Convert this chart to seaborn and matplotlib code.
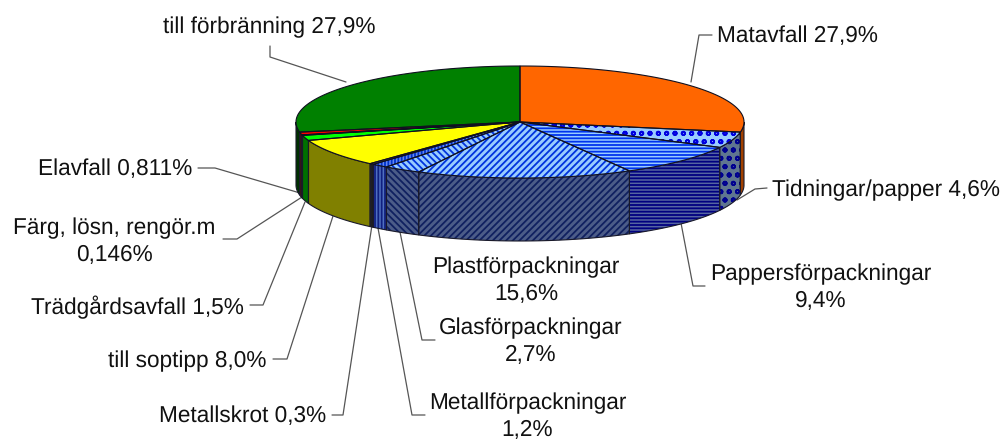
import numpy as np
import seaborn as sns
import matplotlib
matplotlib.use("Agg")
import matplotlib.pyplot as plt
from matplotlib.patches import Polygon

# values in percent, clockwise from 12 o'clock
categories = ["Matavfall", "Tidningar/papper", "Pappersförpackningar", "Plastförpackningar",
              "Glasförpackningar", "Metallförpackningar", "Metallskrot", "till soptipp",
              "Trädgårdsavfall", "Färg, lösn, rengör.m", "Elavfall", "till förbränning"]
values = [27.9, 4.6, 9.4, 15.6, 2.7, 1.2, 0.3, 8.0, 1.5, 0.146, 0.811, 27.9]
labels = ["Matavfall 27,9%", "Tidningar/papper 4,6%", "Pappersförpackningar\n9,4%",
          "Plastförpackningar\n15,6%", "Glasförpackningar\n2,7%", "Metallförpackningar\n1,2%",
          "Metallskrot 0,3%", "till soptipp 8,0%", "Trädgårdsavfall 1,5%",
          "Färg, lösn, rengör.m\n0,146%", "Elavfall 0,811%", "till förbränning 27,9%"]

# top face colour, side colour, hatch colour on top, hatch colour on side, hatch
styles = [
    ("#ff6600", "#a04000", None, None, None),
    ("#99ccff", "#5f7590", "#0000e0", "#000090", "oo"),
    ("#99ccff", "#5565a0", "#0033ee", "#000080", "-----"),
    ("#99ccff", "#4c5c88", "#0033dd", "#102060", "/////"),
    ("#99ccff", "#4c5c88", "#0033dd", "#102060", "\\\\\\\\\\"),
    ("#6688ee", "#5070c0", "#0033cc", "#102080", "|||||"),
    ("#808080", "#202020", None, None, None),
    ("#ffff00", "#808000", None, None, None),
    ("#00ff00", "#007000", None, None, None),
    ("#ffffff", "#808080", None, None, None),
    ("#ff0000", "#4a1010", None, None, None),
    ("#008000", "#003000", None, None, None),
]

cx, cy, rx, ry, depth = 520, 122, 224, 56, 63


def rim(t0, t1):
    t = np.radians(np.linspace(t0, t1, 80))
    return np.column_stack([cx + rx * np.sin(t), cy - ry * np.cos(t)])


sns.set_theme(style="white")
plt.rcParams["font.family"] = ["Liberation Sans", "DejaVu Sans"]
plt.rcParams["hatch.linewidth"] = 1.3
plt.rcParams["text.hinting"] = "no_hinting"

fig = plt.figure(figsize=(10.04, 4.41), dpi=100)
ax = fig.add_axes([0, 0, 1, 1])
ax.set_xlim(0, 1004)
ax.set_ylim(441, 0)
ax.axis("off")

edges = np.concatenate([[0], np.cumsum(values)]) * 360 / sum(values)

# front side of the cylinder
for i, (face, side, h_top, h_side, hatch) in enumerate(styles):
    t0, t1 = max(edges[i], 90), min(edges[i + 1], 270)
    if t1 <= t0:
        continue
    arc = rim(t0, t1)
    low = arc[::-1] + [0, depth]
    pts = np.vstack([arc, low])
    ax.add_patch(Polygon(pts, facecolor=side, edgecolor=h_side if hatch else side, hatch=hatch, lw=0, zorder=2))
    ax.add_patch(Polygon(pts, fill=False, edgecolor="#1a1a2a", lw=0.8, zorder=3))

# top face
for i, (face, side, h_top, h_side, hatch) in enumerate(styles):
    pts = np.vstack([[cx, cy], rim(edges[i], edges[i + 1])])
    ax.add_patch(Polygon(pts, facecolor=face, edgecolor=h_top if hatch else face, hatch=hatch, lw=0, zorder=4))
    ax.add_patch(Polygon(pts, fill=False, edgecolor="#101020", lw=0.8, zorder=5))

# label layout in pixels: text centre, leader line
text_xy = [(797.5, 36), (885.5, 190), (821, 288), (526, 281), (530.5, 342), (527.5, 417),
           (242.5, 416), (187, 361), (137.5, 307), (114, 242), (115.5, 169), (269.5, 27)]
leaders = [
    [(712, 35), (699, 35), (691, 82)],
    [(767, 188), (755, 189), (737, 200)],
    [(705, 286), (693, 286), (681, 223)],
    None,
    [(435, 340), (422, 340), (400, 232)],
    [(425, 415), (412, 415), (378, 228)],
    [(332, 415), (343, 415), (372, 225)],
    [(273, 359), (287, 359), (333, 216)],
    [(250, 305), (263, 305), (305, 202)],
    [(223, 239), (237, 239), (302, 197)],
    [(198, 168), (215, 168), (300, 193)],
    [(270, 46), (270, 57), (346, 82)],
]

for label, (tx, ty), line in zip(labels, text_xy, leaders):
    ax.text(tx, ty, label, ha="center", va="center", fontsize=16.3, color="#111111",
            linespacing=1.3, zorder=6)
    if line is not None:
        ax.plot(*zip(*line), color="#555555", lw=0.9, zorder=1)

fig.savefig("out.png", dpi=100)
plt.close(fig)
